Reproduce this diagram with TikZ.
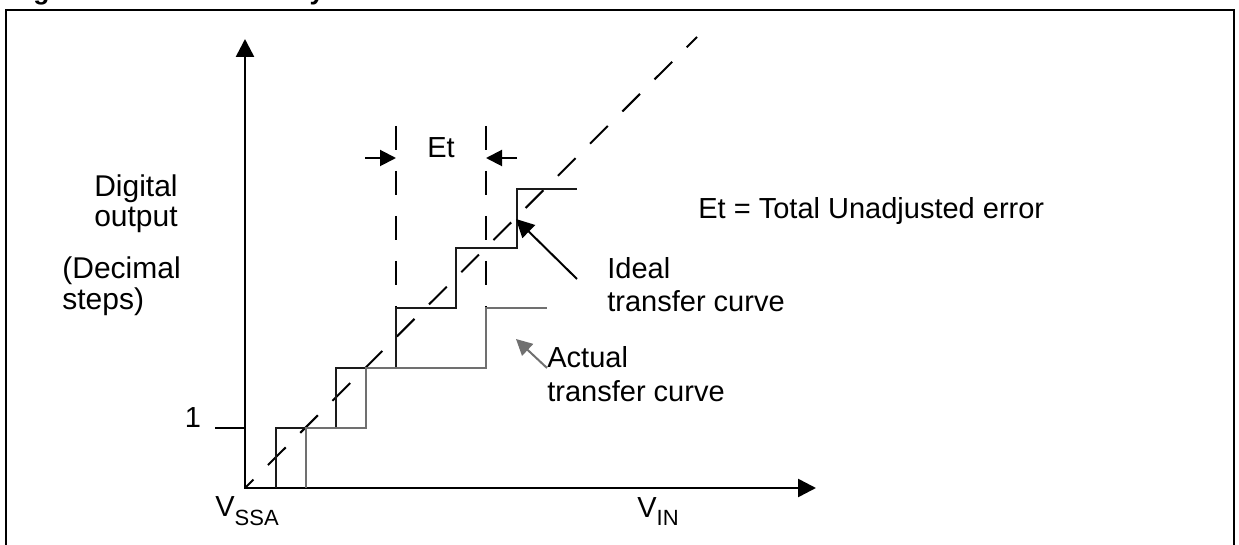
\documentclass[tikz,border=0pt]{standalone}
\usepackage{fontspec}
\setmainfont{Liberation Sans}
\usetikzlibrary{arrows.meta}
\definecolor{actgray}{HTML}{707070}
\definecolor{idealblk}{HTML}{1A1A1A}
\begin{document}
\begin{tikzpicture}[x=0.5pt,y=-0.5pt,
  lbl/.style={font=\fontsize{14.5}{16}\selectfont, inner sep=0pt, anchor=base west},
  lblL/.style={font=\fontsize{15}{17}\selectfont, inner sep=0pt},
  axis/.style={line width=1.3pt, {Triangle[length=9pt,width=9pt]}-{Triangle[length=9pt,width=9pt]}},
  idealline/.style={line width=1pt, draw=idealblk},
  actline/.style={line width=1pt, draw=actgray},
  diagdash/.style={line width=1pt, dash pattern=on 12.5pt off 10.25pt, dash phase=6.5pt},
  vdash/.style={line width=1pt, dash pattern=on 12pt off 10.5pt},
  etarrow/.style={line width=1pt, -{Triangle[length=8pt,width=8pt]}},
  callout/.style={line width=1pt, -{Triangle[length=9pt,width=9pt]}},
  callgray/.style={line width=1pt, draw=actgray, -{Triangle[length=8pt,width=8pt,fill=actgray]}},
  frame/.style={line width=1.3pt}
]
\useasboundingbox (0,0) rectangle (1239,545);

% cropped title
\begin{scope}
\clip (0,0) rectangle (1239,545);
\node[font=\bfseries\fontsize{13.25}{15}\selectfont, inner sep=0pt, anchor=base west] (title) at (9.4,0) {Figure 20. ADC accuracy characteristics};
\end{scope}

% frame
\draw[frame] (6,545) -- (6,10) -- (1234,10) -- (1234,545);

% coordinates
\coordinate (O) at (245,488);
\coordinate (ytop) at (245,39);
\coordinate (xend) at (816,488);
\coordinate (tickL) at (215,428);
\coordinate (tickR) at (245,428);
\coordinate (diagend) at (697,37);

% axes
\draw[axis] (ytop) -- (O) -- (xend);
\draw[line width=1pt] (tickL) -- (tickR);

% dashed ideal line
\draw[diagdash] (O) -- (diagend);

% vertical dashed markers
\coordinate (d1t) at (396,126);
\coordinate (d1b) at (396,308);
\coordinate (d2t) at (486,126);
\coordinate (d2b) at (486,308);
\draw[vdash] (d1t) -- (d1b);
\draw[vdash] (d2t) -- (d2b);

% ideal staircase
\draw[idealline] (276,488) -- (276,428) -- (336,428) -- (336,368) -- (396,368)
  -- (396,308) -- (456,308) -- (456,248) -- (517,248) -- (517,189) -- (577,189);

% actual staircase
\draw[actline] (306,488) -- (306,428) -- (366,428) -- (366,368) -- (486,368)
  -- (486,308) -- (547,308);

% Et arrows
\coordinate (eta1) at (365,158);
\coordinate (eta2) at (396,158);
\coordinate (etb1) at (517,158);
\coordinate (etb2) at (486,158);
\draw[etarrow] (eta1) -- (eta2);
\draw[etarrow] (etb1) -- (etb2);
\node[lbl] (et) at (427,158) {Et};

% labels left
\node[lblL, anchor=base] (dig) at (136,197) {Digital};
\node[lblL, anchor=base] (outp) at (136,227) {output};
\node[lblL, anchor=base west] (dec) at (62,279) {(Decimal};
\node[lblL, anchor=base west] (steps) at (62,310) {steps)};
\node[lbl, anchor=base] (one) at (193,428) {1};

% axis labels
\node[lbl] (vssa) at (215,517) {V\raisebox{-4.5pt}{\fontsize{11}{12}\selectfont SSA}};
\node[lbl] (vin) at (637,518) {V\raisebox{-4pt}{\fontsize{11}{12}\selectfont IN}};

% legend text
\node[lbl] (etdef) at (698,219) {Et = Total Unadjusted error};
\node[lbl] (ideal1) at (607,279) {Ideal};
\node[lbl] (ideal2) at (607,312) {transfer curve};
\node[lbl] (act1) at (547,368) {Actual};
\node[lbl] (act2) at (547,402) {transfer curve};

% callout arrows
\coordinate (ia) at (577,279);
\coordinate (ib) at (516,219);
\coordinate (aa) at (547,368);
\coordinate (ab) at (516,339);
\draw[callout] (ia) -- (ib);
\draw[callgray] (aa) -- (ab);
\end{tikzpicture}
\end{document}
